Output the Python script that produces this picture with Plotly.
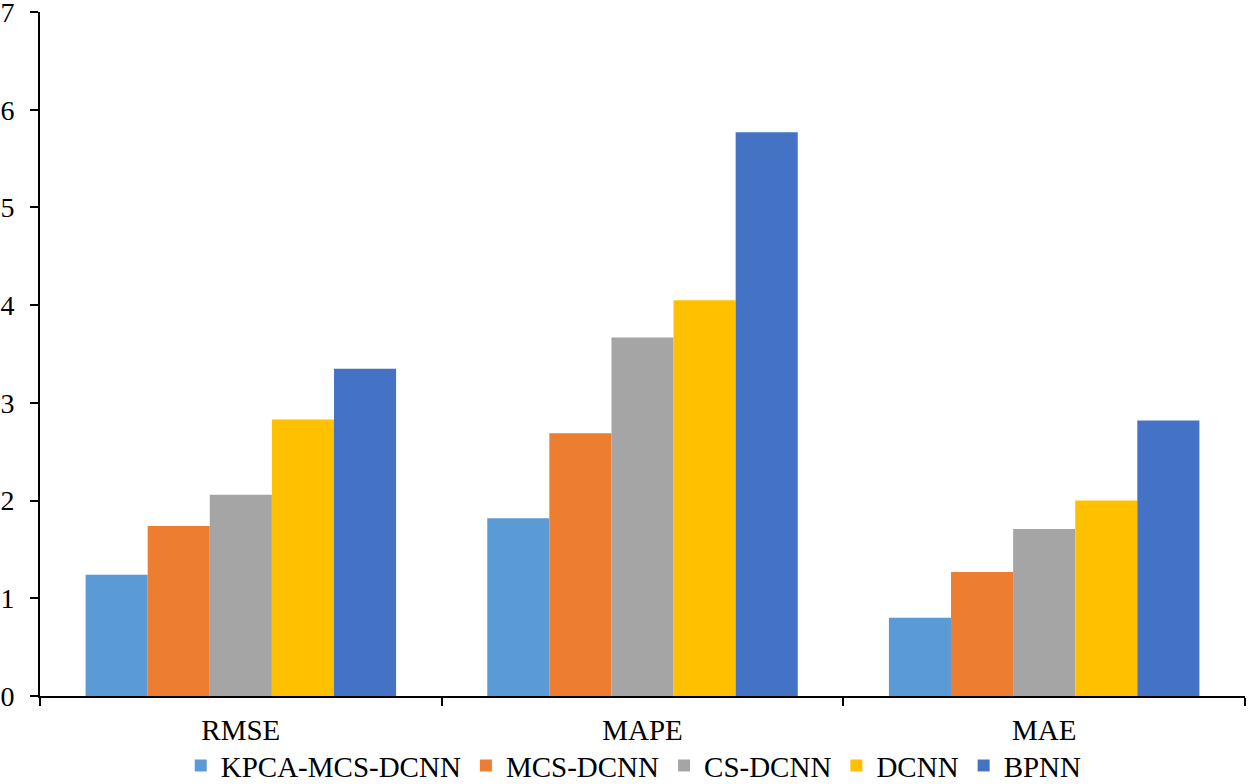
import plotly.graph_objects as go

categories = ["RMSE", "MAPE", "MAE"]
series_names = ["KPCA-MCS-DCNN", "MCS-DCNN", "CS-DCNN", "DCNN", "BPNN"]
kpca_mcs_dcnn = [1.24, 1.82, 0.80]
mcs_dcnn = [1.74, 2.69, 1.27]
cs_dcnn = [2.06, 3.67, 1.71]
dcnn = [2.83, 4.05, 2.00]
bpnn = [3.35, 5.77, 2.82]
y_ticks = [0, 1, 2, 3, 4, 5, 6, 7]

colors = ["#5B9BD5", "#ED7D31", "#A5A5A5", "#FFC000", "#4472C4"]
values = [kpca_mcs_dcnn, mcs_dcnn, cs_dcnn, dcnn, bpnn]

fig = go.Figure()
for name, vals, c in zip(series_names, values, colors):
    fig.add_trace(go.Bar(x=categories, y=vals, name=name, marker=dict(color=c, line=dict(width=0))))

fam = "Liberation Serif, Times New Roman, serif"
font = dict(family=fam, size=29, color="black")
yfont = dict(family=fam, size=28, color="black")
fig.update_layout(
    width=1250, height=784,
    margin=dict(l=40, r=5, t=12, b=88),
    plot_bgcolor="white", paper_bgcolor="white",
    barmode="group", bargap=0.227, bargroupgap=0,
    font=font,
    showlegend=True,
    legend=dict(orientation="h", x=0.507, xanchor="center", xref="container",
                y=0.056, yanchor="top", yref="container",
                bgcolor="rgba(0,0,0,0)", font=font, traceorder="normal"),
)
fig.update_xaxes(showline=True, linecolor="black", linewidth=2, ticks="outside",
                 tickson="boundaries", ticklen=8, tickwidth=2, tickcolor="black",
                 showgrid=False, tickfont=font, automargin=False, ticklabelstandoff=7,
                 ticklabeloverflow="allow")
fig.update_yaxes(range=[0, 7], tickvals=y_ticks, showline=True, linecolor="black", linewidth=2,
                 ticks="outside", ticklen=8, tickwidth=2, tickcolor="black",
                 showgrid=False, zeroline=False, tickfont=yfont, automargin=False,
                 ticklabelstandoff=10, ticklabeloverflow="allow")

fig.write_html("out.html", config={"displayModeBar": False},
               post_script="document.body.style.margin='0';document.body.style.overflow='hidden';")
